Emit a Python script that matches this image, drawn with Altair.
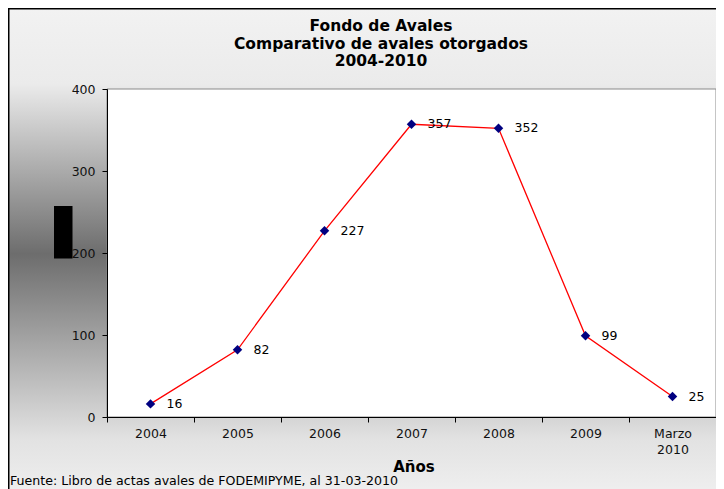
import altair as alt
import pandas as pd

years = ["2004", "2005", "2006", "2007", "2008", "2009", "Marzo 2010"]
avales = [16, 82, 227, 357, 352, 99, 25]
y_ticks = [0, 100, 200, 300, 400]
title_lines = ["Fondo de Avales", "Comparativo de avales otorgados", "2004-2010"]
x_title = "Años"
source = "Fuente: Libro de actas avales de FODEMIPYME, al 31-03-2010"

df = pd.DataFrame({"year": years, "value": avales})
one = pd.DataFrame({"k": [0]})

W, H = 609, 328
PL, PT, PR, PB = 99, 81, 0, 72
FONT = "DejaVu Sans"

x_enc = alt.X(
    "year:N",
    sort=years,
    scale=alt.Scale(type="band", paddingInner=0, paddingOuter=0),
    axis=alt.Axis(
        title=None,
        labelAngle=0,
        labelExpr="split(datum.label, ' ')",
        labelLineHeight=16,
        labelFontSize=12.5,
        labelFont=FONT,
        labelColor="#111",
        labelPadding=5,
        labelBaseline="top",
        tickBand="extent",
        tickSize=5,
        tickColor="#000",
        domainColor="#000",
        zindex=1,
        grid=False,
    ),
)
y_enc = alt.Y(
    "value:Q",
    scale=alt.Scale(domain=[0, 400], nice=False),
    axis=alt.Axis(
        title=None,
        values=y_ticks,
        labelFontSize=12.5,
        labelFont=FONT,
        labelColor="#111",
        labelPadding=7,
        tickSize=5,
        tickColor="#000",
        domainColor="#000",
        zindex=1,
        grid=False,
    ),
)

base = alt.Chart(df)
deco = alt.Chart(one)

bg_gradient = alt.Gradient(
    gradient="linear",
    x1=0, y1=0, x2=0, y2=1,
    stops=[
        alt.GradientStop(offset=0, color="#f2f2f2"),
        alt.GradientStop(offset=0.15, color="#ebebeb"),
        alt.GradientStop(offset=0.49, color="#6d6d6d"),
        alt.GradientStop(offset=0.86, color="#e2e2e2"),
        alt.GradientStop(offset=1, color="#f3f3f3"),
    ],
)

background = deco.mark_rect(fill=bg_gradient, stroke="#000", strokeWidth=1.5).encode(
    x=alt.value(-PL + 0.75), x2=alt.value(W + PR + 20),
    y=alt.value(-PT + 0.75), y2=alt.value(H + PB + 20),
)
plot_bg = deco.mark_rect(fill="#ffffff", stroke="#8a8a8a", strokeWidth=1).encode(
    x=alt.value(0), x2=alt.value(W), y=alt.value(0), y2=alt.value(H)
)
redaction = deco.mark_rect(fill="#000000").encode(
    x=alt.value(-53), x2=alt.value(-34.5), y=alt.value(117), y2=alt.value(169.5)
)

line = base.mark_line(color="#ff0000", strokeWidth=1.3).encode(x=x_enc, y=y_enc)
points = base.mark_point(shape="diamond", filled=True, color="#000080", size=90, opacity=1).encode(
    x=x_enc, y=y_enc
)
labels = base.mark_text(align="left", baseline="middle", dx=16, fontSize=12.5, font=FONT, color="#000").encode(
    x=x_enc, y=y_enc, text="value:Q"
)

title = deco.mark_text(
    text=title_lines, align="center", baseline="top", fontSize=15.5, fontWeight="bold",
    font=FONT, lineHeight=17.5, color="#000"
).encode(x=alt.value(274), y=alt.value(-70))
xtitle = deco.mark_text(
    text=x_title, align="center", baseline="middle", fontSize=15, fontWeight="bold",
    font=FONT, color="#000"
).encode(x=alt.value(307), y=alt.value(378))
footer = deco.mark_text(
    text=source, align="left", baseline="middle", fontSize=12.6, font=FONT, color="#000"
).encode(x=alt.value(-97), y=alt.value(391.5))

chart = alt.layer(
    background, plot_bg, redaction, line, points, labels, title, xtitle, footer
).properties(
    width=W, height=H,
    padding={"left": PL, "top": PT, "right": PR, "bottom": PB},
    autosize=alt.AutoSizeParams(type="none"),
).configure_view(stroke=None).configure(background="#ffffff")

chart.save("out.html", embed_options={"renderer": "svg", "actions": False})
